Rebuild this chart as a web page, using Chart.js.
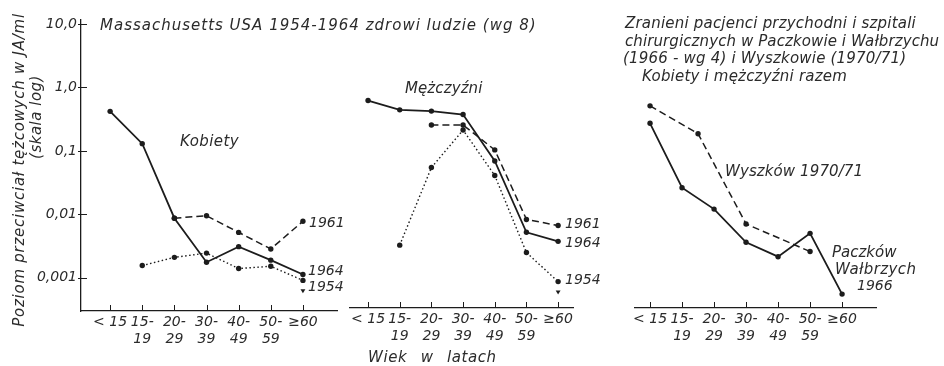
<!DOCTYPE html>
<html>
<head>
<meta charset="utf-8">
<script src="https://cdn.jsdelivr.net/npm/chart.js@4/dist/chart.umd.min.js"></script>
<style>
  html, body { margin: 0; padding: 0; background: #ffffff; }
  #fig { position: relative; width: 944px; height: 366px; overflow: hidden; }
  #fig canvas { position: absolute; left: 0; top: 0; }
</style>
</head>
<body>
<div id="fig">
  <canvas id="women" width="944" height="366"></canvas>
  <canvas id="men" width="944" height="366"></canvas>
  <canvas id="injured" width="944" height="366"></canvas>
</div>
<script>
// Age groups on the x axis (index 0..6) and their two-line tick labels
const AGE_INDEX = [0, 1, 2, 3, 4, 5, 6];
const AGE_TICKS = [['< 15'], ['15-', '19'], ['20-', '29'], ['30-', '39'], ['40-', '49'], ['50-', '59'], ['≥60']];

// Logarithmic antitoxin level axis
const LOG_TICKS = [0.001, 0.01, 0.1, 1, 10];
const LOG_TICK_LABELS = ['0,001', '0,01', '0,1', '1,0', '10,0'];

// Massachusetts USA – kobiety (JA/ml)
const women1964 = [0.42, 0.13, 0.0087, 0.00176, 0.0031, 0.0019, 0.00113];
const women1961 = [null, null, 0.0087, 0.0095, 0.0052, 0.00285, 0.0078];
const women1954 = [null, 0.00156, 0.0021, 0.00245, 0.0014, 0.00152, 0.00091];
const women1954Below = [null, null, null, null, null, null, 0.00063];

// Massachusetts USA – mężczyźni (JA/ml)
const men1964 = [0.63, 0.45, 0.43, 0.38, 0.071, 0.0054, 0.0039];
const men1961 = [null, null, 0.26, 0.26, 0.106, 0.0086, 0.0069];
const men1954 = [null, 0.0034, 0.056, 0.217, 0.042, 0.0026, 0.00091];
const men1954Below = [null, null, null, null, null, null, 0.00063];

// Zranieni pacjenci: Paczków/Wałbrzych 1966 and Wyszków 1970/71
const paczkow1966 = [0.277, 0.027, 0.0125, 0.00377, 0.00224, 0.0052, 0.00058];
const wyszkowAgePos = [0, 1.5, 3, 5];
const wyszkow1970 = [0.52, 0.19, 0.0073, 0.0027];

const INK = '#1c1c1c';
const TEXT = '#2b2b2b';
const FAMILY = '"DejaVu Sans", sans-serif';

function points(xs, ys) {
  const out = [];
  ys.forEach((v, i) => { if (v !== null) out.push({ x: xs[i], y: v }); });
  return out;
}

const LINE_STYLES = {
  solid:  { borderWidth: 1.8, borderDash: [] },
  dashed: { borderWidth: 1.5, borderDash: [7, 4] },
  dotted: { borderWidth: 1.4, borderDash: [1.5, 2.5] }
};

function series(label, xs, ys, style) {
  return Object.assign({
    label,
    data: points(xs, ys),
    borderColor: INK,
    backgroundColor: INK,
    pointBackgroundColor: INK,
    pointBorderWidth: 0,
    pointRadius: 2.7,
    tension: 0,
    fill: false
  }, LINE_STYLES[style]);
}

function belowLimit(label, ys) {
  return {
    label,
    data: points(AGE_INDEX, ys),
    showLine: false,
    pointStyle: 'triangle',
    rotation: 180,
    pointRadius: 2.8,
    pointBorderWidth: 0,
    pointBackgroundColor: INK,
    borderColor: INK
  };
}

// small inward tick marks on the axes
const inkTicks = {
  id: 'inkTicks',
  afterDraw(chart) {
    const { ctx, scales: { x, y } } = chart;
    ctx.save();
    ctx.strokeStyle = INK;
    ctx.lineWidth = 1;
    AGE_INDEX.forEach(i => {
      const px = Math.round(x.getPixelForValue(i)) + 0.5;
      ctx.beginPath();
      ctx.moveTo(px, x.top);
      ctx.lineTo(px, x.top - 6);
      ctx.stroke();
    });
    if (y.options.display) {
      LOG_TICKS.forEach(v => {
        const py = Math.round(y.getPixelForValue(v)) + 0.5;
        ctx.beginPath();
        ctx.moveTo(y.right - 3, py);
        ctx.lineTo(y.right + 6, py);
        ctx.stroke();
      });
    }
    ctx.restore();
  }
};

// free text: titles, panel names, series names
const notes = {
  id: 'notes',
  afterDraw(chart, args, opts) {
    const ctx = chart.ctx;
    ctx.save();
    ctx.fillStyle = TEXT;
    ctx.textBaseline = 'middle';
    (opts.items || []).forEach(n => {
      ctx.save();
      ctx.font = 'italic ' + (n.size || 14) + 'px ' + FAMILY;
      ctx.letterSpacing = (n.ls || 0) + 'px';
      ctx.wordSpacing = (n.ws || 0) + 'px';
      ctx.translate(n.x, n.y);
      if (n.rotate) ctx.rotate(-Math.PI / 2);
      ctx.textAlign = n.align || 'left';
      ctx.fillText(n.text, 0, 0);
      ctx.restore();
    });
    ctx.restore();
  }
};

function makePanel(id, datasets, box, showY, items) {
  return new Chart(document.getElementById(id), {
    type: 'line',
    data: { datasets },
    options: {
      responsive: false,
      animation: false,
      devicePixelRatio: 1,
      layout: { padding: { left: box.padLeft, right: box.padRight, top: box.padTop, bottom: box.padBottom } },
      scales: {
        x: {
          type: 'linear',
          min: box.xMin,
          max: box.xMax,
          grid: { display: false, drawTicks: false },
          border: { display: true, color: INK, width: 1.3 },
          afterBuildTicks: s => { s.ticks = AGE_INDEX.map(v => ({ value: v })); },
          afterFit: s => { s.height = 45; },
          ticks: {
            autoSkip: false,
            maxRotation: 0,
            padding: 3,
            color: TEXT,
            font: { family: FAMILY, size: 14, style: 'italic', lineHeight: 1.2 },
            callback: v => AGE_TICKS[v]
          }
        },
        y: {
          type: 'logarithmic',
          display: showY,
          min: box.yMin,
          max: box.yMax,
          grid: { display: false, drawTicks: false },
          border: { display: true, color: INK, width: 1.3 },
          afterBuildTicks: s => { s.ticks = LOG_TICKS.map(v => ({ value: v })); },
          afterFit: s => { s.width = showY ? 60 : 0; },
          ticks: {
            padding: 4,
            color: TEXT,
            font: { family: FAMILY, size: 14, style: 'italic' },
            callback: v => LOG_TICK_LABELS[LOG_TICKS.indexOf(v)]
          }
        }
      },
      plugins: {
        legend: { display: false },
        tooltip: { enabled: false },
        notes: { items }
      }
    },
    plugins: [inkTicks, notes]
  });
}

const Y_TOP = 11.55;

makePanel('women', [
  series('1964', AGE_INDEX, women1964, 'solid'),
  series('1961', AGE_INDEX, women1961, 'dashed'),
  series('1954', AGE_INDEX, women1954, 'dotted'),
  belowLimit('1954 <', women1954Below)
], { padLeft: 21, padRight: 607, padTop: 20, padBottom: 10, xMin: -0.906, xMax: 7.06, yMin: 0.000315, yMax: Y_TOP }, true, [
  { text: 'Massachusetts USA 1954-1964 zdrowi ludzie (wg 8)', x: 100, y: 26, size: 15, ls: 1 },
  { text: 'Kobiety', x: 180, y: 142, size: 15, ls: 0.4 },
  { text: '1961', x: 309, y: 223 },
  { text: '1964', x: 308, y: 271 },
  { text: '1954', x: 308, y: 287 },
  { text: 'Poziom przeciwciał tężcowych w JA/ml', x: 20, y: 170, rotate: true, align: 'center', size: 15, ls: 0.75 },
  { text: '(skala log)', x: 37, y: 117, rotate: true, align: 'center', size: 15, ls: 0.5 }
]);

makePanel('men', [
  series('1964', AGE_INDEX, men1964, 'solid'),
  series('1961', AGE_INDEX, men1961, 'dashed'),
  series('1954', AGE_INDEX, men1954, 'dotted'),
  belowLimit('1954 <', men1954Below)
], { padLeft: 350, padRight: 371, padTop: 20, padBottom: 13, xMin: -0.57, xMax: 6.47, yMin: 0.000351, yMax: Y_TOP }, false, [
  { text: 'Mężczyźni', x: 405, y: 89, size: 15, ls: 0.1 },
  { text: '1961', x: 565, y: 224 },
  { text: '1964', x: 565, y: 243 },
  { text: '1954', x: 565, y: 280 },
  { text: 'Wiek w latach', x: 368, y: 358, size: 15, ls: 0.6, ws: 8 }
]);

makePanel('injured', [
  series('Paczków Wałbrzych 1966', AGE_INDEX, paczkow1966, 'solid'),
  series('Wyszków 1970/71', wyszkowAgePos, wyszkow1970, 'dashed')
], { padLeft: 635, padRight: 68, padTop: 20, padBottom: 13, xMin: -0.47, xMax: 7.06, yMin: 0.000351, yMax: Y_TOP }, false, [
  { text: 'Zranieni pacjenci przychodni i szpitali', x: 625, y: 24, size: 15, ls: 0.2 },
  { text: 'chirurgicznych w Paczkowie i Wałbrzychu', x: 625, y: 42, size: 15, ls: 0.1 },
  { text: '(1966 - wg 4) i Wyszkowie (1970/71)', x: 623, y: 59, size: 15, ls: 0.2 },
  { text: 'Kobiety i mężczyźni razem', x: 642, y: 77, size: 15, ls: 0.2 },
  { text: 'Wyszków 1970/71', x: 725, y: 172, size: 15, ls: 0.1 },
  { text: 'Paczków', x: 832, y: 253, size: 15 },
  { text: 'Wałbrzych', x: 835, y: 270, size: 15, ls: 0.4 },
  { text: '1966', x: 857, y: 286 }
]);
</script>
</body>
</html>
